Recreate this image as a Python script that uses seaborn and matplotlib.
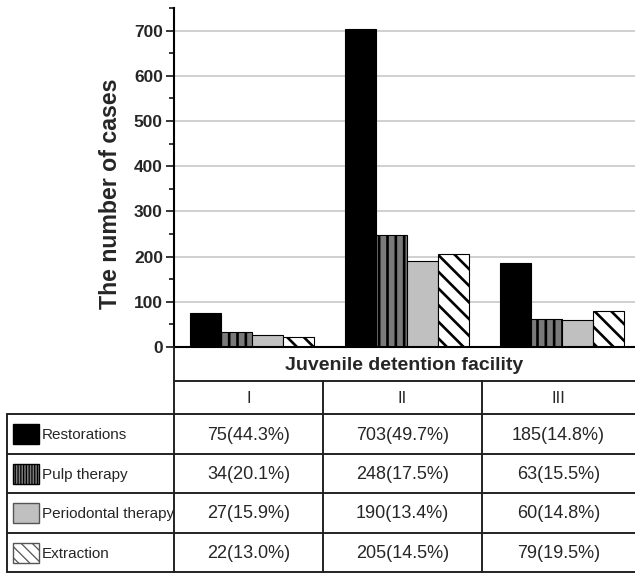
import matplotlib
matplotlib.use("Agg")
import matplotlib.pyplot as plt
from matplotlib.patches import Rectangle
from matplotlib.lines import Line2D
import seaborn as sns
import pandas as pd

# ---- data ----
facilities = ["I", "II", "III"]
treatments = ["Restorations", "Pulp therapy", "Periodontal therapy", "Extraction"]
restorations = [75, 703, 185]
pulp_therapy = [34, 248, 63]
periodontal_therapy = [27, 190, 60]
extraction = [22, 205, 79]
restorations_pct = [44.3, 49.7, 14.8]
pulp_therapy_pct = [20.1, 17.5, 15.5]
periodontal_therapy_pct = [15.9, 13.4, 14.8]
extraction_pct = [13.0, 14.5, 19.5]
y_ticks = [0, 100, 200, 300, 400, 500, 600, 700]

counts = [restorations, pulp_therapy, periodontal_therapy, extraction]
pcts = [restorations_pct, pulp_therapy_pct, periodontal_therapy_pct, extraction_pct]

rows = []
for t, vals in zip(treatments, counts):
    for f, v in zip(facilities, vals):
        rows.append({"facility": f, "treatment": t, "count": v})
df = pd.DataFrame(rows)

# ---- styles ----
sns.set_style("white")
plt.rcParams["font.family"] = ["Liberation Sans", "DejaVu Sans"]
plt.rcParams["hatch.color"] = "black"
plt.rcParams["hatch.linewidth"] = 1.9

colors = ["#000000", "#7a7a7a", "#c0c0c0", "#ffffff"]
bar_hatches = [None, "||", None, "\\\\"]
swatch_hatches = [None, "||||||", None, "\\\\\\"]

W, H = 635, 573
fig = plt.figure(figsize=(W / 100, H / 100), dpi=100)

ax_left, ax_bottom_px, ax_top_px = 174, 347, 8
ax_w_px = W - ax_left
ax_h_px = ax_bottom_px - ax_top_px
ax = fig.add_axes([ax_left / W, (H - ax_bottom_px) / H, ax_w_px / W, ax_h_px / H])

sns.barplot(data=df, x="facility", y="count", hue="treatment",
            order=facilities, hue_order=treatments, palette=colors,
            width=0.8, edgecolor="black", linewidth=0.8, saturation=1,
            legend=False, ax=ax, zorder=3)

for cont, hatch in zip(ax.containers, bar_hatches):
    for p in cont:
        if hatch:
            p.set_hatch(hatch)

ax.set_xlim(-0.5, 2.474)
ax.set_ylim(0, 750)
ax.set_yticks(y_ticks)
ax.set_yticks(range(50, 800, 100), minor=True)
ax.set_yticklabels([str(t) for t in y_ticks], fontweight="bold", fontsize=12.5)
ax.tick_params(axis="y", which="major", direction="out", length=6, width=1.3,
               left=True, pad=2)
ax.tick_params(axis="y", which="minor", direction="out", length=3.5, width=1.3,
               left=True)
ax.tick_params(axis="x", bottom=False, labelbottom=False)
ax.set_xlabel("")
ax.set_ylabel("The number of cases", fontsize=16.7, fontweight="bold")
ax.yaxis.set_label_coords((122 - ax_left) / ax_w_px, (ax_bottom_px - 193.5) / ax_h_px)
ax.grid(axis="y", color="#c4c4c4", linewidth=1.1, zorder=0)
ax.set_axisbelow(True)
for s in ["top", "right"]:
    ax.spines[s].set_visible(False)
for s in ["left", "bottom"]:
    ax.spines[s].set_linewidth(1.5)
    ax.spines[s].set_color("black")
    ax.spines[s].set_zorder(5)

# ---- table (drawn in pixel coordinates on an overlay) ----
ov = fig.add_axes([0, 0, 1, 1], facecolor="none")
ov.set_xlim(0, W)
ov.set_ylim(H, 0)
ov.axis("off")

lw = 1.4
lc = "#222222"
table_left = 7
col_x = [174, 323, 482, W]
header_bottom = 381
subheader_bottom = 414
row_lines = [414, 454, 493, 533, 572]

def hline(y, x0, x1):
    ov.add_line(Line2D([x0, x1], [y, y], color=lc, lw=lw))

def vline(x, y0, y1):
    ov.add_line(Line2D([x, x], [y0, y1], color=lc, lw=lw))

hline(header_bottom, 174, W)
for y in row_lines:
    hline(y, table_left, W)
vline(174, ax_bottom_px, row_lines[-1])
vline(table_left, row_lines[0], row_lines[-1])
for x in col_x[1:3]:
    vline(x, header_bottom, row_lines[-1])

ov.text((174 + W) / 2, (ax_bottom_px + header_bottom) / 2 + 1,
        "Juvenile detention facility", ha="center", va="center",
        fontsize=14, fontweight="bold")

col_centers = [(col_x[i] + col_x[i + 1]) / 2 for i in range(3)]
for cx, f in zip(col_centers, facilities):
    ov.text(cx, (header_bottom + subheader_bottom) / 2 + 1, f, ha="center",
            va="center", fontsize=12)

for i, (t, vals, pc) in enumerate(zip(treatments, counts, pcts)):
    yc = (row_lines[i] + row_lines[i + 1]) / 2
    ec = "#555555" if i in (2, 3) else "black"
    sw = Rectangle((13, yc - 10), 26, 20, facecolor=colors[i], edgecolor=ec,
                   lw=1.0, hatch=swatch_hatches[i])
    if swatch_hatches[i] and hasattr(sw, "set_hatch_linewidth"):
        sw.set_hatch_linewidth(0.9)
    ov.add_patch(sw)
    ov.text(42, yc + 1, t, ha="left", va="center", fontsize=11)
    for cx, v, p in zip(col_centers, vals, pc):
        ov.text(cx, yc + 1, f"{v}({p:.1f}%)", ha="center", va="center",
                fontsize=13)

fig.savefig("out.png", dpi=100)
